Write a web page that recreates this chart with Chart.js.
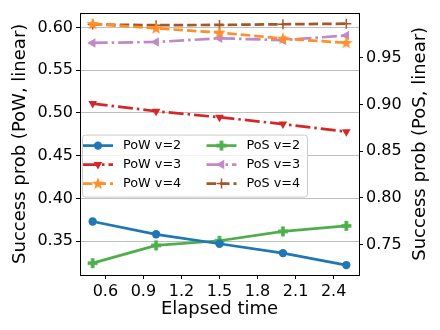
<!DOCTYPE html>
<html>
<head>
<meta charset="utf-8">
<script src="https://cdn.jsdelivr.net/npm/chart.js@4/dist/chart.umd.min.js"></script>
<style>
html,body{margin:0;padding:0;background:#fff;}
#wrap{width:440px;height:330px;}
</style>
</head>
<body>
<div id="wrap"><canvas id="c" width="440" height="330"></canvas></div>
<script>
// ---- data ----
const elapsed = [0.5, 1.0, 1.5, 2.0, 2.5];
const powV2 = [0.373, 0.358, 0.347, 0.336, 0.322];
const powV3 = [0.511, 0.502, 0.495, 0.487, 0.478];
const powV4 = [0.604, 0.599, 0.594, 0.587, 0.582];
const posV2 = [0.730, 0.749, 0.754, 0.764, 0.770];
const posV3 = [0.966, 0.967, 0.971, 0.969, 0.974];
const posV4 = [0.9857, 0.985, 0.9853, 0.986, 0.9866];
const xTicks = [0.6, 0.9, 1.2, 1.5, 1.8, 2.1, 2.4];
const powTicks = [0.35, 0.40, 0.45, 0.50, 0.55, 0.60];
const posTicks = [0.75, 0.80, 0.85, 0.90, 0.95];
const labels = ['PoW v=2', 'PoW v=3', 'PoW v=4', 'PoS v=2', 'PoS v=3', 'PoS v=4'];
const rightTitle = 'Success prob (PoS, linear)';

const FONT = "'DejaVu Sans', sans-serif";

function makeStar(color) {
  const c = document.createElement('canvas');
  c.width = 14; c.height = 14;
  const g = c.getContext('2d');
  g.fillStyle = color;
  g.beginPath();
  for (let i = 0; i < 10; i++) {
    const r = i % 2 === 0 ? 6.5 : 2.7;
    const a = -Math.PI / 2 + i * Math.PI / 5;
    const px = 7 + r * Math.cos(a), py = 7.3 + r * Math.sin(a);
    if (i === 0) g.moveTo(px, py); else g.lineTo(px, py);
  }
  g.closePath();
  g.fill();
  return c;
}
function makePlus(color) {
  const c = document.createElement('canvas');
  c.width = 12; c.height = 12;
  const g = c.getContext('2d');
  g.fillStyle = color;
  g.fillRect(4.2, 1, 3.6, 10);
  g.fillRect(1, 4.2, 10, 3.6);
  return c;
}

const C = {
  blue: '#1f77b4', red: '#d62728', orange: '#ff8f2a',
  green: '#4daf4a', purple: '#c388c6', brown: '#a65628'
};
const LW = 2.7;
const DASH = [9.5, 4];
const DASHDOT = [15, 4, 2.5, 4];

function pts(arr) { return elapsed.map((x, i) => ({x: x, y: arr[i]})); }

const datasets = [
  {label: labels[0], data: pts(powV2), yAxisID: 'y', borderColor: C.blue, backgroundColor: C.blue,
   pointStyle: 'circle', pointRadius: 4.2, pointBorderWidth: 0, borderDash: []},
  {label: labels[1], data: pts(powV3), yAxisID: 'y', borderColor: C.red, backgroundColor: C.red,
   pointStyle: 'triangle', pointRotation: 180, pointRadius: 5, pointBorderWidth: 0, borderDash: DASHDOT},
  {label: labels[2], data: pts(powV4), yAxisID: 'y', borderColor: C.orange, backgroundColor: C.orange,
   pointStyle: makeStar(C.orange), pointRadius: 6, pointBorderWidth: 0, borderDash: DASH},
  {label: labels[3], data: pts(posV2), yAxisID: 'y1', borderColor: C.green, backgroundColor: C.green,
   pointStyle: makePlus(C.green), pointRadius: 5, pointBorderWidth: 0, borderDash: []},
  {label: labels[4], data: pts(posV3), yAxisID: 'y1', borderColor: C.purple, backgroundColor: C.purple,
   pointStyle: 'triangle', pointRotation: -90, pointRadius: 5.5, pointBorderWidth: 0, borderDash: DASHDOT},
  {label: labels[5], data: pts(posV4), yAxisID: 'y1', borderColor: C.brown, backgroundColor: C.brown,
   pointStyle: 'cross', pointRadius: 5, pointBorderWidth: 1.5, borderDash: DASH}
].map(d => Object.assign({borderWidth: LW, fill: false, tension: 0, pointHoverRadius: d.pointRadius}, d));

const frame = {
  id: 'frame',
  afterDatasetsDraw(chart) {
    const {ctx, chartArea: a} = chart;
    // legend
    const bx = a.left + 2, by = a.top + 122, bw = 225, bh = 62;
    ctx.save();
    ctx.beginPath();
    if (ctx.roundRect) ctx.roundRect(bx + 0.5, by + 0.5, bw, bh, 3); else ctx.rect(bx + 0.5, by + 0.5, bw, bh);
    ctx.fillStyle = 'rgba(255,255,255,0.8)';
    ctx.fill();
    ctx.strokeStyle = '#cccccc';
    ctx.lineWidth = 1;
    ctx.stroke();
    chart.data.datasets.forEach((ds, i) => {
      const col = i < 3 ? 0 : 1, row = i % 3;
      const hx = bx + 1 + col * 123.5;
      const hy = by + 11 + row * 19;
      ctx.save();
      ctx.strokeStyle = ds.borderColor;
      ctx.lineWidth = LW;
      ctx.setLineDash(ds.borderDash || []);
      ctx.beginPath();
      ctx.moveTo(hx, hy); ctx.lineTo(hx + 30, hy);
      ctx.stroke();
      ctx.restore();
      ctx.save();
      ctx.fillStyle = ds.backgroundColor;
      ctx.strokeStyle = ds.borderColor;
      ctx.lineWidth = ds.pointBorderWidth || 0;
      Chart.helpers.drawPoint(ctx, {pointStyle: ds.pointStyle, rotation: ds.pointRotation || 0,
        radius: ds.pointRadius, borderWidth: ds.pointBorderWidth}, hx + 15, hy);
      ctx.restore();
      ctx.fillStyle = '#000';
      ctx.font = '12.8px ' + FONT;
      ctx.textBaseline = 'middle';
      ctx.textAlign = 'left';
      ctx.fillText(ds.label, hx + 40, hy + 0.5);
    });
    // frame
    ctx.strokeStyle = '#000';
    ctx.lineWidth = 1;
    ctx.strokeRect(Math.round(a.left) + 0.5, Math.round(a.top) + 0.5,
      Math.round(a.right - a.left), Math.round(a.bottom - a.top));
    // right axis title, reading bottom-to-top
    ctx.translate(420, (a.top + a.bottom) / 2);
    ctx.rotate(-Math.PI / 2);
    ctx.font = '18px ' + FONT;
    ctx.textAlign = 'center';
    ctx.textBaseline = 'middle';
    ctx.fillStyle = '#000';
    ctx.fillText(rightTitle, 0, 0);
    ctx.restore();
  }
};

function setTicks(vals) { return scale => { scale.ticks = vals.map(v => ({value: v})); }; }

new Chart(document.getElementById('c'), {
  type: 'line',
  data: {datasets: datasets},
  options: {
    responsive: false,
    animation: false,
    devicePixelRatio: 1,
    layout: {padding: {top: 11, left: 0, right: 0, bottom: 0}},
    plugins: {legend: {display: false}, tooltip: {enabled: false}},
    scales: {
      x: {
        type: 'linear', min: 0.4, max: 2.6,
        afterBuildTicks: setTicks(xTicks),
        afterFit: s => { s.height = 55; },
        grid: {display: true, drawOnChartArea: false, tickLength: 4, tickColor: '#000', tickWidth: 1},
        border: {display: false},
        ticks: {padding: 3, color: '#000', font: {family: FONT, size: 16}, callback: v => v.toFixed(1), maxRotation: 0, autoSkip: false},
        title: {display: true, text: 'Elapsed time', color: '#000', font: {family: FONT, size: 18}, padding: {top: 0, bottom: 10}}
      },
      y: {
        type: 'linear', position: 'left', min: 0.3104, max: 0.6174,
        afterBuildTicks: setTicks(powTicks),
        afterFit: s => { s.width = 80; },
        grid: {color: '#b0b0b0', lineWidth: 0.8, tickLength: 4, tickColor: '#000', tickWidth: 1},
        border: {display: false},
        ticks: {padding: 3, color: '#000', font: {family: FONT, size: 16}, callback: v => v.toFixed(2), autoSkip: false},
        title: {display: true, text: 'Success prob (PoW, linear)', color: '#000', font: {family: FONT, size: 18}, padding: {top: 10, bottom: 0}}
      },
      y1: {
        type: 'linear', position: 'right', min: 0.7173, max: 0.9985,
        afterBuildTicks: setTicks(posTicks),
        afterFit: s => { s.width = 81; },
        grid: {drawOnChartArea: false, tickLength: 4, tickColor: '#000', tickWidth: 1},
        border: {display: false},
        ticks: {padding: 3, color: '#000', font: {family: FONT, size: 16}, callback: v => v.toFixed(2), autoSkip: false},
        title: {display: false}
      }
    }
  },
  plugins: [frame]
});
</script>
</body>
</html>
